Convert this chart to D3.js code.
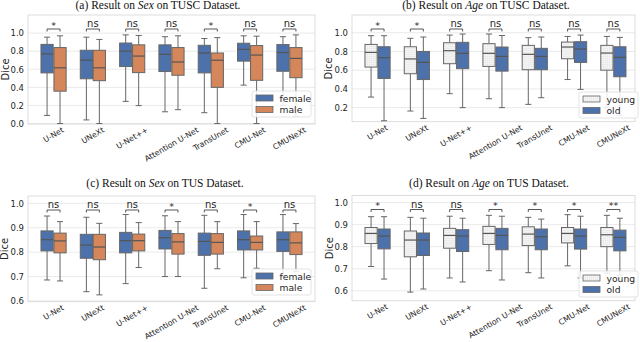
<!DOCTYPE html>
<html>
<head>
<meta charset="utf-8">
<script src="https://cdn.jsdelivr.net/npm/d3@7"></script>
<style>
  body { margin: 0; background: #fff; }
  svg { display: block; }
  text { font-family: "DejaVu Sans", sans-serif; fill: #262626; }
  text.title { font-family: "Liberation Serif", "Times New Roman", serif; }
</style>
</head>
<body>
<svg id="chart" width="640" height="342"></svg>
<script>
const models = ["U-Net", "UNeXt", "U-Net++", "Attention U-Net", "TransUnet", "CMU-Net", "CMUNeXt"];

// each row: [whisker low, q1, median, q3, whisker high]
const tuscFemale = [
  [0.09, 0.56, 0.77, 0.875, 0.955],
  [0.04, 0.495, 0.70, 0.81, 0.955],
  [0.245, 0.63, 0.80, 0.89, 0.98],
  [0.13, 0.575, 0.765, 0.87, 0.96],
  [0.12, 0.56, 0.78, 0.865, 0.94],
  [0.425, 0.69, 0.82, 0.888, 0.97],
  [0.2, 0.578, 0.785, 0.873, 0.96]
];
const tuscMale = [
  [0.0, 0.358, 0.616, 0.84, 0.97],
  [0.0, 0.474, 0.616, 0.81, 0.93],
  [0.198, 0.563, 0.746, 0.87, 0.974],
  [0.153, 0.534, 0.68, 0.84, 0.97],
  [0.0, 0.40, 0.70, 0.78, 0.95],
  [0.0, 0.478, 0.757, 0.862, 0.966],
  [0.08, 0.507, 0.72, 0.84, 0.98]
];
const tuscYoung = [
  [0.313, 0.633, 0.79, 0.875, 0.968],
  [0.164, 0.562, 0.72, 0.85, 0.94],
  [0.349, 0.669, 0.808, 0.893, 0.975],
  [0.295, 0.64, 0.78, 0.883, 0.986],
  [0.235, 0.605, 0.769, 0.865, 0.947],
  [0.50, 0.722, 0.847, 0.90, 0.96],
  [0.2, 0.60, 0.783, 0.865, 0.96]
];
const tuscOld = [
  [0.06, 0.512, 0.733, 0.85, 0.968],
  [0.085, 0.50, 0.683, 0.80, 0.954],
  [0.20, 0.616, 0.78, 0.897, 0.986],
  [0.20, 0.59, 0.747, 0.847, 0.97],
  [0.306, 0.605, 0.747, 0.833, 0.954],
  [0.395, 0.683, 0.826, 0.904, 0.975],
  [0.12, 0.53, 0.737, 0.85, 0.95]
];
const tusFemale = [
  [0.686, 0.805, 0.851, 0.887, 0.948],
  [0.638, 0.775, 0.829, 0.873, 0.943],
  [0.671, 0.797, 0.847, 0.881, 0.954],
  [0.70, 0.813, 0.859, 0.889, 0.949],
  [0.652, 0.787, 0.844, 0.878, 0.951],
  [0.695, 0.809, 0.851, 0.887, 0.954],
  [0.70, 0.803, 0.851, 0.883, 0.954]
];
const tusMale = [
  [0.682, 0.797, 0.846, 0.878, 0.925],
  [0.625, 0.769, 0.821, 0.873, 0.918],
  [0.737, 0.805, 0.847, 0.874, 0.921],
  [0.70, 0.792, 0.842, 0.876, 0.925],
  [0.732, 0.792, 0.84, 0.876, 0.925],
  [0.734, 0.809, 0.84, 0.866, 0.925],
  [0.72, 0.79, 0.838, 0.883, 0.917]
];
const tusYoung = [
  [0.71, 0.814, 0.86, 0.887, 0.936],
  [0.594, 0.754, 0.83, 0.871, 0.933],
  [0.658, 0.793, 0.851, 0.883, 0.938],
  [0.691, 0.81, 0.86, 0.892, 0.942],
  [0.682, 0.805, 0.857, 0.89, 0.933],
  [0.713, 0.817, 0.86, 0.887, 0.945],
  [0.68, 0.80, 0.854, 0.887, 0.942]
];
const tusOld = [
  [0.653, 0.79, 0.848, 0.88, 0.936],
  [0.608, 0.76, 0.83, 0.862, 0.929],
  [0.64, 0.778, 0.848, 0.877, 0.929],
  [0.649, 0.786, 0.851, 0.883, 0.938],
  [0.658, 0.786, 0.845, 0.88, 0.925],
  [0.658, 0.789, 0.848, 0.88, 0.938],
  [0.67, 0.781, 0.842, 0.875, 0.929]
];

const sigTuscSex = ["*", "ns", "ns", "ns", "*", "ns", "ns"];
const sigTuscAge = ["*", "*", "ns", "ns", "ns", "ns", "ns"];
const sigTusSex = ["ns", "ns", "ns", "*", "ns", "*", "ns"];
const sigTusAge = ["*", "ns", "ns", "*", "*", "*", "**"];

const ticksTuscSex = [0.0, 0.2, 0.4, 0.6, 0.8, 1.0];
const ticksTuscAge = [0.2, 0.4, 0.6, 0.8, 1.0];
const ticksTus = [0.6, 0.7, 0.8, 0.9, 1.0];

const sexNames = ["female", "male"];
const ageNames = ["young", "old"];
const sexColors = ["#4d71ab", "#d5865a"];
const ageColors = ["url(#dots)", "#4d71ab"];

const panels = [
  { tag: "(a)", attr: "Sex", set: "TUSC", left: 28, right: 315, top: 15, bottom: 124, dom: [-0.005, 1.2],
    ticks: ticksTuscSex, series: [tuscFemale, tuscMale], names: sexNames, colors: sexColors, sig: sigTuscSex,
    pad: 0.15, align: 0.5, leg: [252, 91], labelX: 5, titleX: 158, titleY: 9 },
  { tag: "(b)", attr: "Age", set: "TUSC", left: 352, right: 635, top: 15, bottom: 121.7, dom: [0.05, 1.189],
    ticks: ticksTuscAge, series: [tuscYoung, tuscOld], names: ageNames, colors: ageColors, sig: sigTuscAge,
    pad: 0.1, align: 0.75, leg: [579, 92], labelX: 328, titleX: 486, titleY: 9 },
  { tag: "(c)", attr: "Sex", set: "TUS", left: 28, right: 315, top: 196, bottom: 301.7, dom: [0.597, 1.03],
    ticks: ticksTus, series: [tusFemale, tusMale], names: sexNames, colors: sexColors, sig: sigTusSex,
    pad: 0.15, align: 0.5, leg: [252, 269], labelX: 4, titleX: 165, titleY: 186.5 },
  { tag: "(d)", attr: "Age", set: "TUS", left: 352, right: 635, top: 195.5, bottom: 300.7, dom: [0.555, 1.032],
    ticks: ticksTus, series: [tusYoung, tusOld], names: ageNames, colors: ageColors, sig: sigTusAge,
    pad: 0.1, align: 0.75, leg: [579, 271], labelX: 329, titleX: 489, titleY: 186.5 }
];

const svg = d3.select("#chart");
const lineColor = "#666";

// dotted fill of the light boxes
const pat = svg.append("defs").append("pattern").attr("id", "dots")
  .attr("patternUnits", "userSpaceOnUse").attr("width", 2).attr("height", 2);
pat.append("rect").attr("width", 2).attr("height", 2).attr("fill", "#f3f3f3");
pat.append("rect").attr("width", 0.7).attr("height", 0.7).attr("fill", "#d6d6d6");

panels.forEach(function (p) {
  const g = svg.append("g");

  const x = d3.scaleBand().domain(models).range([p.left, p.right])
    .paddingInner(0).paddingOuter(p.pad).align(p.align);
  const y = d3.scaleLinear().domain(p.dom).range([p.bottom, p.top]);
  const step = x.step();
  const boxW = step * 0.31;
  const off = step * 0.165;

  // title
  const t = g.append("text").attr("class", "title")
    .attr("x", p.titleX).attr("y", p.titleY)
    .attr("text-anchor", "middle").style("font-size", "11.5px").style("fill", "#111");
  t.append("tspan").text(p.tag + " Result on ");
  t.append("tspan").style("font-style", "italic").text(p.attr);
  t.append("tspan").text(" on " + p.set + " Dataset.");

  // grid
  g.append("g").selectAll("line").data(p.ticks).enter().append("line")
    .attr("x1", p.left).attr("x2", p.right)
    .attr("y1", d => y(d)).attr("y2", d => y(d))
    .attr("stroke", "#e4e4e4").attr("stroke-width", 0.8);

  // frame
  g.append("rect").attr("x", p.left).attr("y", p.top)
    .attr("width", p.right - p.left).attr("height", p.bottom - p.top)
    .attr("fill", "none").attr("stroke", "#d4d4d4").attr("stroke-width", 0.8);

  // y axis
  const ya = g.append("g").attr("transform", "translate(" + p.left + ",0)")
    .call(d3.axisLeft(y).tickValues(p.ticks).tickFormat(d3.format(".1f")).tickSize(0).tickPadding(4));
  ya.select(".domain").remove();
  ya.selectAll("text").style("font-size", "8.5px").style("font-family", "DejaVu Sans").attr("fill", "#262626");

  g.append("text")
    .attr("transform", "translate(" + p.labelX + "," + (p.top + p.bottom) / 2 + ") rotate(-90)")
    .attr("text-anchor", "middle").attr("dominant-baseline", "central")
    .style("font-size", "10px").text("Dice");

  // x tick labels, rotated 30 deg, bbox centred under each tick
  const fs = 7.8;
  models.forEach(function (m) {
    const cx = x(m) + step / 2;
    const lab = g.append("text").attr("text-anchor", "middle").attr("dominant-baseline", "central")
      .style("font-size", fs + "px").text(m);
    const w = lab.node().getComputedTextLength();
    const H = w * 0.5 + fs * 0.866;
    lab.attr("transform", "translate(" + cx + "," + (p.bottom + 2 + H / 2) + ") rotate(-30)");
  });

  // boxes
  p.series.forEach(function (ser, si) {
    const bg = g.append("g");
    const grp = bg.selectAll("g").data(ser).enter().append("g")
      .attr("transform", (d, i) => "translate(" + (x(models[i]) + step / 2 + (si === 0 ? -off : off)) + ",0)");
    grp.append("line").attr("x1", 0).attr("x2", 0)
      .attr("y1", d => y(d[0])).attr("y2", d => y(d[1]))
      .attr("stroke", lineColor).attr("stroke-width", 1);
    grp.append("line").attr("x1", 0).attr("x2", 0)
      .attr("y1", d => y(d[3])).attr("y2", d => y(d[4]))
      .attr("stroke", lineColor).attr("stroke-width", 1);
    grp.append("line").attr("x1", -boxW / 4).attr("x2", boxW / 4)
      .attr("y1", d => y(d[0])).attr("y2", d => y(d[0]))
      .attr("stroke", lineColor).attr("stroke-width", 1);
    grp.append("line").attr("x1", -boxW / 4).attr("x2", boxW / 4)
      .attr("y1", d => y(d[4])).attr("y2", d => y(d[4]))
      .attr("stroke", lineColor).attr("stroke-width", 1);
    grp.append("rect").attr("x", -boxW / 2).attr("width", boxW)
      .attr("y", d => y(d[3])).attr("height", d => y(d[1]) - y(d[3]))
      .attr("fill", p.colors[si]).attr("stroke", lineColor).attr("stroke-width", 1);
    grp.append("line").attr("x1", -boxW / 2).attr("x2", boxW / 2)
      .attr("y1", d => y(d[2])).attr("y2", d => y(d[2]))
      .attr("stroke", "#555").attr("stroke-width", 1.2);
  });

  // significance brackets
  const by = p.top + 14;
  models.forEach(function (m, i) {
    const cx = x(m) + step / 2;
    g.append("path")
      .attr("d", "M" + (cx - off) + "," + (by + 2.5) + "V" + by + "H" + (cx + off) + "V" + (by + 2.5))
      .attr("fill", "none").attr("stroke", "#444").attr("stroke-width", 0.9);
    g.append("text").attr("x", cx).attr("y", p.sig[i] === "ns" ? by - 2 : by - 0.5)
      .attr("text-anchor", "middle").style("font-size", p.sig[i] === "ns" ? "10px" : "9.5px")
      .text(p.sig[i]);
  });

  // legend
  const lg = g.append("g").attr("transform", "translate(" + p.leg[0] + "," + p.leg[1] + ")");
  lg.append("rect").attr("width", 59).attr("height", 26).attr("rx", 2)
    .attr("fill", "#fff").attr("fill-opacity", 0.85).attr("stroke", "#dcdcdc").attr("stroke-width", 0.8);
  p.names.forEach(function (n, i) {
    lg.append("rect").attr("x", 4).attr("y", 4 + i * 11.5).attr("width", 17).attr("height", 6)
      .attr("fill", p.colors[i]).attr("stroke", lineColor).attr("stroke-width", 0.8);
    lg.append("text").attr("x", 27.5).attr("y", 7 + i * 11.5).attr("dominant-baseline", "central")
      .style("font-size", "9.2px").text(n);
  });
});
</script>
</body>
</html>
